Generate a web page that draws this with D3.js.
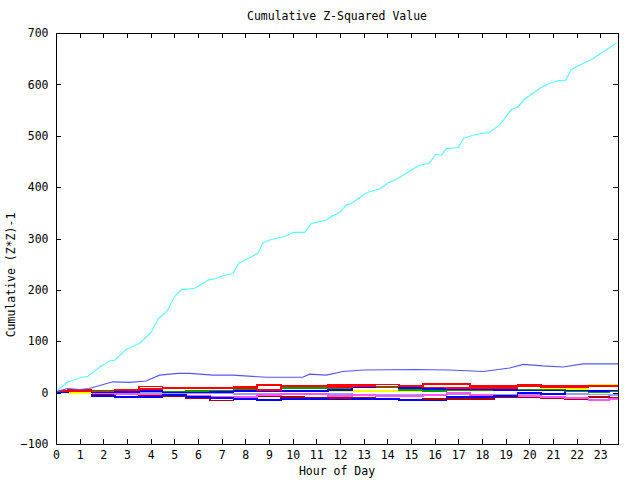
<!DOCTYPE html>
<html><head><meta charset="utf-8">
<script src="https://cdn.jsdelivr.net/npm/d3@7"></script>
<style>
html,body{margin:0;padding:0;background:#fff;}
text{font-family:"DejaVu Sans Mono",monospace;font-size:11.5px;fill:#000;}
</style></head>
<body>
<svg id="chart" width="640" height="480"></svg>
<script>
// ---- data ----
const title = "Cumulative Z-Squared Value";
const xLabel = "Hour of Day";
const yLabel = "Cumulative (Z*Z)-1";
const xTicks = d3.range(0, 24);
const yTicks = [-100, 0, 100, 200, 300, 400, 500, 600, 700];

// large series (cyan) read at irregular hours
const cyanHours = [0,0.5,0.66,1.08,1.36,1.85,2.27,2.48,2.97,3.54,4.03,4.31,4.7,5.01,5.3,5.86,6.49,6.78,6.99,7.48,7.72,8.04,8.53,8.75,9.03,9.73,10.01,10.5,10.79,11.42,11.57,11.99,12.27,12.48,13.12,13.68,14.03,14.45,14.87,15.37,15.76,16.04,16.28,16.5,16.99,17.23,17.76,18.29,18.75,19.24,19.52,19.8,20.43,20.86,21.28,21.53,21.77,22.34,22.69,23.11,23.7];
const cyanVals  = [2,21,23,30,32,50,62,63,84,96,118,143,159,187,200,203,220,222,227,232,252,259,271,292,297,305,312,312,329,336,341,351,365,368,389,397,408,417,429,443,446,464,462,475,477,495,503,506,521,551,556,571,592,602,608,607,629,642,650,663,681];

const blueHours = [0,0.5,1,1.4,1.85,2.4,3.1,3.8,4.38,5.15,5.65,6.63,7.48,8.89,9.87,10.43,10.72,11.42,12.13,12.97,15.23,16.64,18.05,19.17,19.74,20.58,21.43,22.27,23.75];
const blueVals  = [2,8,6,8,14,21,20,22.5,34,37.5,37.5,34,34,30,30,30,36,34,41,44,45,44,41,48,55,52,50,56,56];

// cluster series, hourly readings
const hours = [0,1,2,3,4,5,6,7,8,9,10,11,12,13,14,15,16,17,18,19,20,21,22,23,23.75];
const redA     = [3,3,4,6,12,10,9,9,12,15,13,13,15,16,16,14,17,17,13,13,15,14,13,14,14];
const redB     = [2,5,4,5,7,9,9,9,9,5,12,13,11,13,12,13,10,9,9,9,12,11,11,12,13];
const green    = [1,2,2,4,7,1,3,4,7,4,9,9,9,10,10,5,3,5,4,5,5,5,2,1,2];
const yellow   = [0,-1,1,2,2,2,2,2,2,3,4,4,2,3,3,3,2,5,5,5,6,7,7,16,15];
const blueA    = [1,2,0,1,3,0,0,1,3,2,3,3,5,11,12,9,7,7,7,5,4,4,4,3,4];
const blueB    = [0,-2,-6,-9,-9,-5,-8,-10,-12,-14,-12,-12,-13,-12,-12,-14,-15,-9,-9,-6,-1,-3,2,2,2];
const magenta  = [0,-1,-2,-3,-4,-5,-6,-9,-8,-5,-3,-3,-7,-5,-7,-7,-5,-1,-5,-6,-7,-8,-11,-14,-12];
const darkRed  = [0,-2,-3,-4,-5,-7,-11,-15,-13,-7,-8,-10,-11,-11,-13,-14,-12,-12,-12,-8,-9,-11,-12,-9,-10];
const lavender = [0,1,0,-1,-1,-2,-2,-2,-3,-3,-3,-3,-3,-4,-4,-5,-5,-4,-4,-5,-4,-3,-3,-4,-5];

const clusterSeries = [
  {vals: lavender, color: "#9a9aff"},
  {vals: darkRed,  color: "#b00000"},
  {vals: magenta,  color: "#ff55ff"},
  {vals: blueB,    color: "#0000ff"},
  {vals: yellow,   color: "#ffff00"},
  {vals: green,    color: "#00a000"},
  {vals: blueA,    color: "#0000ff"},
  {vals: redB,     color: "#ff0000"},
  {vals: redA,     color: "#ff0000"}
];

// ---- layout ----
const W = 640, H = 480;
const m = {left: 56, right: 22, top: 33, bottom: 36};
const svg = d3.select("#chart");
const x = d3.scaleLinear().domain([0, 23.75]).range([m.left, W - m.right]);
const y = d3.scaleLinear().domain([-100, 700]).range([H - m.bottom, m.top]);

// series
const line = d3.line().x(d => x(d[0])).y(d => y(d[1]));
const stepLine = d3.line().x(d => x(d[0])).y(d => y(d[1])).curve(d3.curveStep);

clusterSeries.forEach(s => {
  svg.append("path")
    .datum(hours.map((h, i) => [h, s.vals[i]]))
    .attr("d", stepLine)
    .attr("fill", "none")
    .attr("stroke", s.color)
    .attr("stroke-width", 1.6)
    .attr("shape-rendering", "crispEdges");
});

svg.append("path")
  .datum(blueHours.map((h, i) => [h, blueVals[i]]))
  .attr("d", line).attr("fill", "none")
  .attr("stroke", "#5555ff").attr("stroke-width", 1.1);

svg.append("path")
  .datum(cyanHours.map((h, i) => [h, cyanVals[i]]))
  .attr("d", line).attr("fill", "none")
  .attr("stroke", "#55ffff").attr("stroke-width", 1.1);

// axes
function styleAxis(g, hideText) {
  g.select(".domain").remove();
  g.selectAll("line").attr("stroke", "#000").attr("shape-rendering", "crispEdges");
  g.selectAll("text").attr("font-family", "DejaVu Sans Mono").attr("font-size", "11.5px").attr("fill", "#000");
  if (hideText) g.selectAll("text").remove();
}
svg.append("g").attr("transform", `translate(0,${H - m.bottom})`)
  .call(d3.axisBottom(x).tickValues(xTicks).tickFormat(d3.format("d")).tickSizeInner(-5).tickSizeOuter(0).tickPadding(7.3))
  .call(g => styleAxis(g, false));
svg.append("g").attr("transform", `translate(0,${m.top})`)
  .call(d3.axisTop(x).tickValues(xTicks).tickSizeInner(-5).tickSizeOuter(0))
  .call(g => styleAxis(g, true));
svg.append("g").attr("transform", `translate(${m.left},0)`)
  .call(d3.axisLeft(y).tickValues(yTicks).tickFormat(d3.format("d")).tickSizeInner(-5).tickSizeOuter(0).tickPadding(7.5))
  .call(g => styleAxis(g, false));
svg.append("g").attr("transform", `translate(${W - m.right},0)`)
  .call(d3.axisRight(y).tickValues(yTicks).tickSizeInner(-5).tickSizeOuter(0))
  .call(g => styleAxis(g, true));

svg.append("rect")
  .attr("x", m.left).attr("y", m.top)
  .attr("width", W - m.left - m.right).attr("height", H - m.top - m.bottom)
  .attr("fill", "none").attr("stroke", "#000").attr("shape-rendering", "crispEdges");

// texts
svg.append("text").attr("x", (m.left + W - m.right) / 2).attr("y", 20)
  .attr("text-anchor", "middle").text(title);
svg.append("text").attr("x", (m.left + W - m.right) / 2).attr("y", 475)
  .attr("text-anchor", "middle").text(xLabel);
svg.append("text").attr("transform", "translate(15,275) rotate(-90)")
  .attr("text-anchor", "middle").text(yLabel);
</script>
</body></html>
